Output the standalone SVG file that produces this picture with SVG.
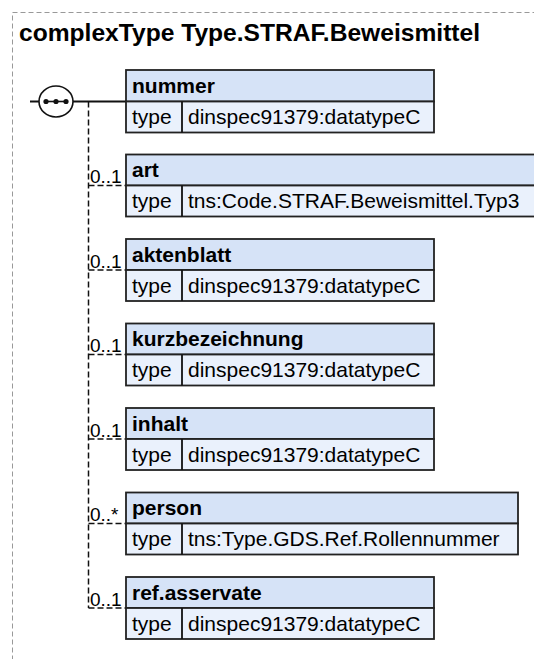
<svg xmlns="http://www.w3.org/2000/svg" width="534" height="659" viewBox="0 0 534 659">
<style>
.frame{fill:none;stroke:#999;stroke-width:1;stroke-dasharray:5 3}
.title{font-family:"Liberation Sans",Arial,sans-serif;font-weight:bold;font-size:24.6px;fill:#000}
.hdr{fill:#d6e3f7;stroke:#222;stroke-width:1.8}
.row{fill:#eaf1fc;stroke:#222;stroke-width:1.8}
.lbl{font-family:"Liberation Sans",Arial,sans-serif;font-weight:bold;font-size:21px;fill:#000}
.txt{font-family:"Liberation Sans",Arial,sans-serif;font-size:21px;fill:#000}
.occ{font-family:"Liberation Sans",Arial,sans-serif;font-size:19px;fill:#000}
.solid{fill:none;stroke:#111;stroke-width:1.8}
.dash{fill:none;stroke:#111;stroke-width:1.5;stroke-dasharray:6 3}
</style>
<rect class="frame" x="12.5" y="12.5" width="600" height="700"/>
<text class="title" x="19" y="41">complexType Type.STRAF.Beweismittel</text>

<g id="connectors">
<line class="solid" x1="30" y1="101.5" x2="126" y2="101.5"/>
<line class="dash" x1="88.5" y1="101.5" x2="88.5" y2="608"/>
<line class="dash" x1="88.5" y1="185.5" x2="126" y2="185.5"/>
<line class="dash" x1="88.5" y1="270" x2="126" y2="270"/>
<line class="dash" x1="88.5" y1="354.5" x2="126" y2="354.5"/>
<line class="dash" x1="88.5" y1="439" x2="126" y2="439"/>
<line class="dash" x1="88.5" y1="523.5" x2="126" y2="523.5"/>
<line class="dash" x1="88.5" y1="608" x2="126" y2="608"/>
<text class="occ" x="90" y="183">0..1</text>
<text class="occ" x="90" y="267.5">0..1</text>
<text class="occ" x="90" y="352">0..1</text>
<text class="occ" x="90" y="436.5">0..1</text>
<text class="occ" x="90" y="521">0..*</text>
<text class="occ" x="90" y="605.5">0..1</text>
</g>

<g id="sequence">
<ellipse cx="56" cy="101.5" rx="17" ry="15.5" fill="#fff" stroke="#111" stroke-width="1.6"/>
<line x1="46" y1="101.5" x2="66" y2="101.5" stroke="#111" stroke-width="1.6"/>
<circle cx="46" cy="101.5" r="2.6" fill="#111"/>
<circle cx="56" cy="101.5" r="2.6" fill="#111"/>
<circle cx="66" cy="101.5" r="2.6" fill="#111"/>
</g>

<g id="nummer">
<rect class="hdr" x="126" y="70" width="308" height="31.5"/>
<rect class="row" x="126" y="101.5" width="308" height="31"/>
<line class="solid" x1="182" y1="101.5" x2="182" y2="132.5"/>
<text class="lbl" x="132" y="93">nummer</text>
<text class="txt" x="132" y="124">type</text>
<text class="txt" x="188" y="124">dinspec91379:datatypeC</text>
</g>

<g id="art">
<rect class="hdr" x="126" y="154.5" width="420" height="31"/>
<rect class="row" x="126" y="185.5" width="420" height="31"/>
<line class="solid" x1="182" y1="185.5" x2="182" y2="216.5"/>
<text class="lbl" x="132" y="177">art</text>
<text class="txt" x="132" y="208">type</text>
<text class="txt" x="188" y="208">tns:Code.STRAF.Beweismittel.Typ3</text>
</g>

<g id="aktenblatt">
<rect class="hdr" x="126" y="239" width="308" height="31"/>
<rect class="row" x="126" y="270" width="308" height="31"/>
<line class="solid" x1="182" y1="270" x2="182" y2="301"/>
<text class="lbl" x="132" y="261.5">aktenblatt</text>
<text class="txt" x="132" y="292.5">type</text>
<text class="txt" x="188" y="292.5">dinspec91379:datatypeC</text>
</g>

<g id="kurzbezeichnung">
<rect class="hdr" x="126" y="323.5" width="308" height="31"/>
<rect class="row" x="126" y="354.5" width="308" height="31"/>
<line class="solid" x1="182" y1="354.5" x2="182" y2="385.5"/>
<text class="lbl" x="132" y="346">kurzbezeichnung</text>
<text class="txt" x="132" y="377">type</text>
<text class="txt" x="188" y="377">dinspec91379:datatypeC</text>
</g>

<g id="inhalt">
<rect class="hdr" x="126" y="408" width="308" height="31"/>
<rect class="row" x="126" y="439" width="308" height="31"/>
<line class="solid" x1="182" y1="439" x2="182" y2="470"/>
<text class="lbl" x="132" y="430.5">inhalt</text>
<text class="txt" x="132" y="461.5">type</text>
<text class="txt" x="188" y="461.5">dinspec91379:datatypeC</text>
</g>

<g id="person">
<rect class="hdr" x="126" y="492.5" width="392" height="31"/>
<rect class="row" x="126" y="523.5" width="392" height="31"/>
<line class="solid" x1="182" y1="523.5" x2="182" y2="554.5"/>
<text class="lbl" x="132" y="515">person</text>
<text class="txt" x="132" y="546">type</text>
<text class="txt" x="188" y="546">tns:Type.GDS.Ref.Rollennummer</text>
</g>

<g id="ref.asservate">
<rect class="hdr" x="126" y="577" width="308" height="31"/>
<rect class="row" x="126" y="608" width="308" height="31"/>
<line class="solid" x1="182" y1="608" x2="182" y2="639"/>
<text class="lbl" x="132" y="599.5">ref.asservate</text>
<text class="txt" x="132" y="630.5">type</text>
<text class="txt" x="188" y="630.5">dinspec91379:datatypeC</text>
</g>
</svg>
